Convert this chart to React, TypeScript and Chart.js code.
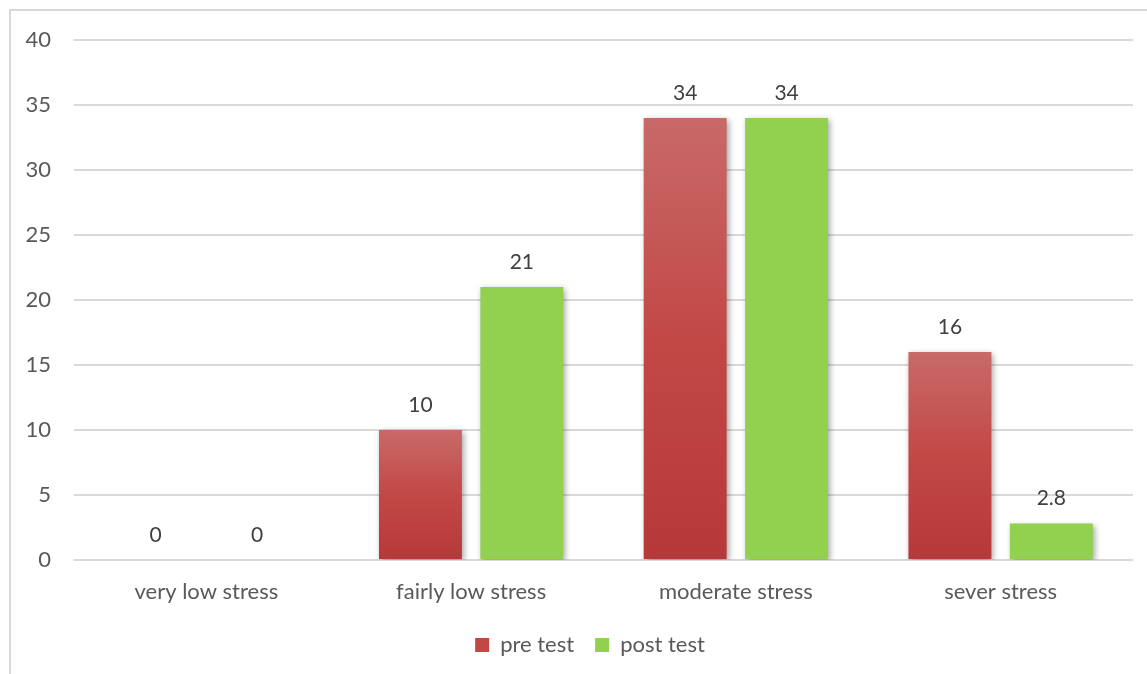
import React, { useEffect, useRef } from "react";
import { Chart, registerables } from "chart.js";

Chart.register(...registerables);

const categories = ["very low stress", "fairly low stress", "moderate stress", "sever stress"];
const preTest = [0, 10, 34, 16];
const postTest = [0, 21, 34, 2.8];
const seriesNames = ["pre test", "post test"];
const yTicks = [0, 5, 10, 15, 20, 25, 30, 35, 40];

const FONT = "Lato, 'Open Sans', sans-serif";

function redGradient(ctx: CanvasRenderingContext2D, top: number, bottom: number) {
  const g = ctx.createLinearGradient(0, top, 0, bottom);
  g.addColorStop(0, "#c86a68");
  g.addColorStop(0.5, "#c24846");
  g.addColorStop(1, "#b53939");
  return g;
}

const shadowPlugin = {
  id: "barShadow",
  beforeDatasetsDraw(chart: any) {
    const ctx = chart.ctx;
    ctx.save();
    ctx.shadowColor = "rgba(0,0,0,0.35)";
    ctx.shadowBlur = 6;
    ctx.shadowOffsetX = 2;
    ctx.shadowOffsetY = 2;
  },
  afterDatasetsDraw(chart: any) {
    chart.ctx.restore();
  },
};

const labelPlugin = {
  id: "valueLabels",
  afterDatasetsDraw(chart: any) {
    const ctx = chart.ctx;
    ctx.save();
    ctx.shadowColor = "transparent";
    ctx.font = `21px ${FONT}`;
    ctx.fillStyle = "#404040";
    ctx.textAlign = "center";
    ctx.textBaseline = "middle";
    chart.data.datasets.forEach((ds: any, i: number) => {
      const meta = chart.getDatasetMeta(i);
      meta.data.forEach((bar: any, j: number) => {
        ctx.fillText(String(ds.data[j]), bar.x, bar.y - 25);
      });
    });
    ctx.restore();
  },
};

export default function App() {
  const ref = useRef<HTMLCanvasElement | null>(null);

  useEffect(() => {
    if (!ref.current) return;
    const chart = new Chart(ref.current, {
      type: "bar",
      data: {
        labels: categories,
        datasets: [
          {
            label: seriesNames[0],
            data: preTest,
            backgroundColor: (c: any) => {
              const ch = c.chart;
              const y = ch.scales?.y;
              if (!y || c.dataIndex === undefined || c.type !== "data") return "#c24846";
              const v = preTest[c.dataIndex];
              const top = y.getPixelForValue(v);
              const bottom = y.getPixelForValue(0);
              if (bottom - top < 1) return "#c24846";
              return redGradient(ch.ctx, top, bottom);
            },
            categoryPercentage: 0.766,
            barPercentage: 0.818,
          },
          {
            label: seriesNames[1],
            data: postTest,
            backgroundColor: "#92d050",
            categoryPercentage: 0.766,
            barPercentage: 0.818,
          },
        ],
      },
      options: {
        animation: false,
        responsive: false,
        maintainAspectRatio: false,
        layout: { padding: { left: 47, right: 14, top: 40, bottom: 8 } },
        scales: {
          x: {
            afterFit: (scale: any) => {
              scale.height = 53;
              scale._computeLabelArea = () => undefined;
            },
            grid: { display: false, drawTicks: false },
            border: { display: false },
            ticks: { color: "#595959", font: { family: FONT, size: 22 }, padding: 19 },
          },
          y: {
            min: 0,
            max: 40,
            afterBuildTicks: (scale: any) => {
              scale.ticks = yTicks.map((v) => ({ value: v }));
            },
            afterFit: (scale: any) => {
              scale.width = 27;
              scale._computeLabelArea = () => undefined;
            },
            grid: { color: "#d9d9d9", lineWidth: 2, drawTicks: false },
            border: { display: false },
            ticks: { color: "#595959", font: { family: FONT, size: 22 }, padding: 23 },
          },
        },
        plugins: {
          legend: {
            position: "bottom",
            labels: {
              boxWidth: 14,
              boxHeight: 14,
              padding: 21,
              color: "#595959",
              font: { family: FONT, size: 22 },
              generateLabels: (ch: any) =>
                ch.data.datasets.map((ds: any, i: number) => ({
                  text: ds.label,
                  fillStyle: i === 0 ? "#c24846" : "#92d050",
                  strokeStyle: "transparent",
                  lineWidth: 0,
                  hidden: false,
                  datasetIndex: i,
                  fontColor: "#595959",
                })),
            },
          },
          tooltip: { enabled: false },
        },
      },
      plugins: [shadowPlugin, labelPlugin],
    } as any);
    return () => chart.destroy();
  }, []);

  return (
    <div style={{ position: "absolute", left: 0, top: 0, width: 1147, height: 674, overflow: "hidden", background: "#fff" }}>
      <div
        style={{
          position: "absolute",
          left: 9,
          top: 9,
          width: 1160,
          height: 700,
          border: "2px solid #d9d9d9",
          boxSizing: "border-box",
        }}
      />
      <canvas ref={ref} width={1147} height={674} style={{ position: "absolute", left: 0, top: 0, width: 1147, height: 674 }} />
    </div>
  );
}
